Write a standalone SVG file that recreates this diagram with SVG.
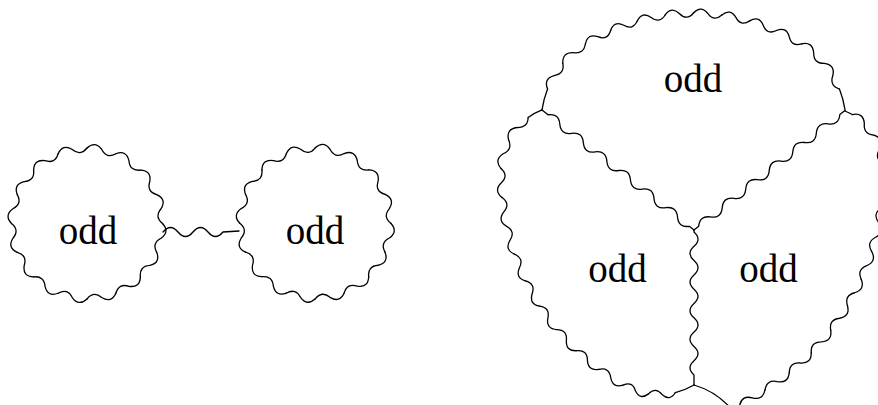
<svg xmlns="http://www.w3.org/2000/svg" width="878" height="405" viewBox="0 0 878 405">
<style>
.w{fill:none;stroke:#000;stroke-width:1.3;stroke-linecap:round;stroke-linejoin:round}
.lbl{font-family:"Liberation Serif","Times New Roman",serif;font-size:39px;text-anchor:middle;fill:#000}
</style>
<defs>
<path id="sc" d="M75.5,0 Q83.1,8.18 74.05,14.73 Q64.59,19.59 69.75,28.89"/>
<path id="tm" d="M205,0 Q212.87,7.39 204.51,14.21 Q195.93,20.46 203.03,28.35"/>
<path id="ts" d="M93.8,0 Q101.48,8.13 92.6,14.93 Q83.35,20.38 89.05,29.48"/>
<path id="lm" d="M242,0 Q249.89,7.49 241.57,14.5 Q233.06,21.01 240.26,28.94"/>
<path id="l3" d="M71.25,0 Q78.89,7.5 69.97,13.43 Q60.71,17.75 66.19,26.38"/>
<path id="l1" d="M65,0 Q72.52,8.4 63.28,14.87 Q53.62,19.34 58.2,28.94"/>
<path id="rm" d="M251,0 Q258.89,7.67 250.56,14.86 Q242.04,21.56 249.24,29.66"/>
<path id="r2" d="M60,0 Q67.47,8.48 58.14,14.84 Q48.39,19.05 52.66,28.77"/>
</defs>
<rect width="878" height="405" fill="#fff"/>

<g id="node-odd-a">
  <g class="w" transform="translate(87,223.5)">
    <use href="#sc"/><use href="#sc" transform="rotate(22.5)"/><use href="#sc" transform="rotate(45)"/><use href="#sc" transform="rotate(67.5)"/>
    <use href="#sc" transform="rotate(90)"/><use href="#sc" transform="rotate(112.5)"/><use href="#sc" transform="rotate(135)"/><use href="#sc" transform="rotate(157.5)"/>
    <use href="#sc" transform="rotate(180)"/><use href="#sc" transform="rotate(202.5)"/><use href="#sc" transform="rotate(225)"/><use href="#sc" transform="rotate(247.5)"/>
    <use href="#sc" transform="rotate(270)"/><use href="#sc" transform="rotate(292.5)"/><use href="#sc" transform="rotate(315)"/><use href="#sc" transform="rotate(337.5)"/>
  </g>
  <text class="lbl" x="88" y="244">odd</text>
</g>

<g id="node-odd-b">
  <g class="w" transform="translate(315.3,223.3)">
    <use href="#sc"/><use href="#sc" transform="rotate(22.5)"/><use href="#sc" transform="rotate(45)"/><use href="#sc" transform="rotate(67.5)"/>
    <use href="#sc" transform="rotate(90)"/><use href="#sc" transform="rotate(112.5)"/><use href="#sc" transform="rotate(135)"/><use href="#sc" transform="rotate(157.5)"/>
    <use href="#sc" transform="rotate(180)"/><use href="#sc" transform="rotate(202.5)"/><use href="#sc" transform="rotate(225)"/><use href="#sc" transform="rotate(247.5)"/>
    <use href="#sc" transform="rotate(270)"/><use href="#sc" transform="rotate(292.5)"/><use href="#sc" transform="rotate(315)"/><use href="#sc" transform="rotate(337.5)"/>
  </g>
  <text class="lbl" x="315" y="244">odd</text>
</g>

<g id="node-odd-top">
  <g class="w">
    <g transform="translate(634.8,123.5) rotate(-171.7)">
      <path d="M93.8,0 A93.8,93.8 0 0 1 91.3,21.52"/>
      <use href="#ts" transform="rotate(13.26)"/><use href="#ts" transform="rotate(31.58)"/>
    </g>
    <g transform="translate(693.5,218) rotate(-121.8)">
      <use href="#tm"/><use href="#tm" transform="rotate(7.95)"/><use href="#tm" transform="rotate(15.9)"/><use href="#tm" transform="rotate(23.85)"/>
      <use href="#tm" transform="rotate(31.8)"/><use href="#tm" transform="rotate(39.75)"/><use href="#tm" transform="rotate(47.7)"/><use href="#tm" transform="rotate(55.65)"/>
    </g>
    <g transform="translate(752.2,123.5) rotate(-58.2)">
      <use href="#ts"/><use href="#ts" transform="rotate(18.32)"/>
      <path d="M75.27,55.98 A93.8,93.8 0 0 1 60.42,71.75"/>
    </g>
  </g>
  <text class="lbl" x="693" y="91.5">odd</text>
</g>

<g id="node-odd-left">
  <g class="w">
    <g transform="translate(658.4,323.3) rotate(60)">
      <path d="M71.25,0 A71.25,71.25 0 0 1 68.41,19.93"/>
      <use href="#l3" transform="rotate(16.24)"/><use href="#l3" transform="rotate(37.97)"/>
    </g>
    <g transform="translate(743,175) rotate(119.7)">
      <use href="#lm"/><use href="#lm" transform="rotate(6.869)"/><use href="#lm" transform="rotate(13.738)"/>
      <use href="#lm" transform="rotate(20.607)"/><use href="#lm" transform="rotate(27.476)"/><use href="#lm" transform="rotate(34.345)"/>
      <use href="#lm" transform="rotate(41.214)"/><use href="#lm" transform="rotate(48.083)"/><use href="#lm" transform="rotate(54.952)"/>
    </g>
    <g transform="translate(566,170.3) rotate(181.52)">
      <use href="#l1"/><use href="#l1" transform="rotate(26.44)"/>
      <path d="M39.23,51.83 A65,65 0 0 1 25.61,59.74"/>
    </g>
  </g>
  <text class="lbl" x="617.5" y="282">odd</text>
</g>

<g id="node-odd-right">
  <g class="w">
    <g transform="translate(822.7,166.7) rotate(-68.2)">
      <path d="M60,0 A60,60 0 0 1 59.44,8.16"/>
      <use href="#r2" transform="rotate(7.82)"/><use href="#r2" transform="rotate(36.47)"/>
    </g>
    <g transform="translate(632,177) rotate(-3.08)">
      <use href="#rm"/><use href="#rm" transform="rotate(6.787)"/><use href="#rm" transform="rotate(13.573)"/>
      <use href="#rm" transform="rotate(20.36)"/><use href="#rm" transform="rotate(27.147)"/><use href="#rm" transform="rotate(33.933)"/>
      <use href="#rm" transform="rotate(40.72)"/><use href="#rm" transform="rotate(47.507)"/><use href="#rm" transform="rotate(54.293)"/>
    </g>
    <path transform="translate(765.01,389.86) rotate(148)" d="M0,0 q7.5,-8 15,0 t15,0 t15,0 t15,0"/>
    <path d="M694,385 Q718,392 734,412"/>
  </g>
  <text class="lbl" x="768.5" y="282">odd</text>
</g>

<g id="connectors" class="w">
  <path d="M163,232 q7.5,-9 15,0 t15,0 t15,0 t15,0 L239,231"/>
  <path transform="translate(694,230) rotate(-141.71)" d="M0,0 h6 q7.5,-8 15,0 t15,0 t15,0 t15,0 t15,0 t15,0 t15,0 t15,0 t15,0 t15,0 t15,0 t15,0 h7.66"/>
  <path transform="translate(694,230) rotate(-38.36)" d="M0,0 h6 q7.5,-8 15,0 t15,0 t15,0 t15,0 t15,0 t15,0 t15,0 t15,0 t15,0 t15,0 t15,0 t15,0 h6.56"/>
  <path transform="translate(694,230) rotate(90)" d="M0,0 h2 q7.15,-8 14.3,0 t14.3,0 t14.3,0 t14.3,0 t14.3,0 t14.3,0 t14.3,0 t14.3,0 t14.3,0 t14.3,0 h10"/>
</g>
</svg>
